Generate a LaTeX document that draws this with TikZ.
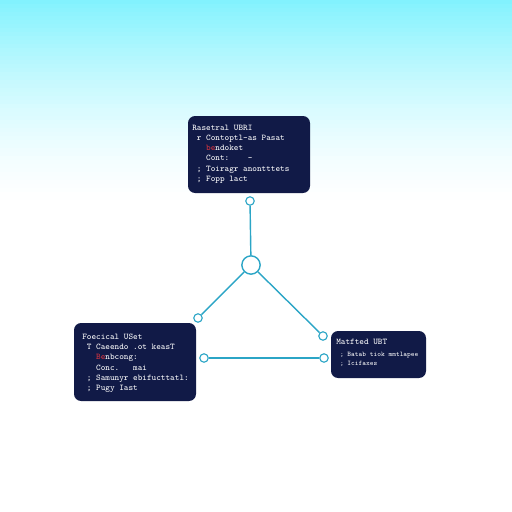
\documentclass[tikz,border=0pt]{standalone}
\usepackage{xcolor}
\usepackage{tikz}

\definecolor{navy}{HTML}{111A47}
\definecolor{linkcol}{HTML}{2BA5C6}
\definecolor{skycol}{HTML}{82F2FE}
\definecolor{redtxt}{HTML}{D8353F}

\newcommand{\rd}[1]{\textcolor{redtxt}{#1}}

\begin{document}
\begin{tikzpicture}[
    x=0.025cm, y=-0.025cm,
    panel/.style={draw=none, fill=navy, rounded corners=5pt, inner sep=0pt},
    paneltext/.style={anchor=north west, text=white, align=left, inner sep=0pt,
        font=\ttfamily\fontsize{6.2}{7.2}\selectfont},
    port/.style={circle, draw=linkcol, fill=white, line width=0.8pt, minimum size=6pt, inner sep=0pt},
    hub/.style={circle, draw=linkcol, fill=white, line width=1pt, minimum size=13pt, inner sep=0pt},
    link/.style={draw=linkcol, line width=1pt}
]
\useasboundingbox (0,0) rectangle (512,512);
\fill[white] (0,0) rectangle (512,512);
% sky fade, one strip every 4px
\foreach \i in {0,...,52} {
    \pgfmathtruncatemacro{\amt}{100*(1-\i/52)^1.6}
    \fill[skycol!\amt!white] (0,\i*4) rectangle (512,\i*4+4.5);
}

% panels
\node (top) [panel, minimum width=122*0.025cm, minimum height=77*0.025cm] at (249,154.5) {};
\node (left) [panel, minimum width=122*0.025cm, minimum height=78*0.025cm] at (135,362) {};
\node (right) [panel, minimum width=95*0.025cm, minimum height=47*0.025cm] at (378.5,354.5) {};

\node (top-text) [paneltext] at (192,125) {%
    Rasetral UBRI\\
    \ r Contoptl-as Pasat\\
    \ \ \ \rd{be}ndoket\\
    \ \ \ Cont:\ \ \ \ -\\
    \ ; Toiragr anontttets\\
    \ ; Fopp lact};

\node (left-text) [paneltext] at (82,334) {%
    Foecical USet\\
    \ T Caeendo .ot keasT\\
    \ \ \ \rd{Be}nbcong:\\
    \ \ \ Conc.\ \ \ mai\\
    \ ; Samunyr ebifucttatl:\\
    \ ; Pugy Iast};

\node (right-text) [paneltext, font=\ttfamily\fontsize{5}{6.6}\selectfont] at (336,339) {%
    {\fontsize{6.2}{7.2}\selectfont Matfted UBT}\\[1.5pt]
    \ ; Batab tiok mmtlapee\\
    \ ; Icifaxes};

% links
\node (top-port) [port] at (250,201) {};
\node (hub-c) [hub] at (251,265) {};
\node (left-port) [port] at (198,318) {};
\node (right-port) [port] at (323,336) {};
\node (low-left) [port] at (204,358) {};
\node (low-right) [port] at (324,358) {};

\draw[link] (top-port) -- (hub-c);
\draw[link] (hub-c) -- (left-port);
\draw[link] (hub-c) -- (right-port);
\draw[link] (low-left) -- (low-right);

\end{tikzpicture}
\end{document}
